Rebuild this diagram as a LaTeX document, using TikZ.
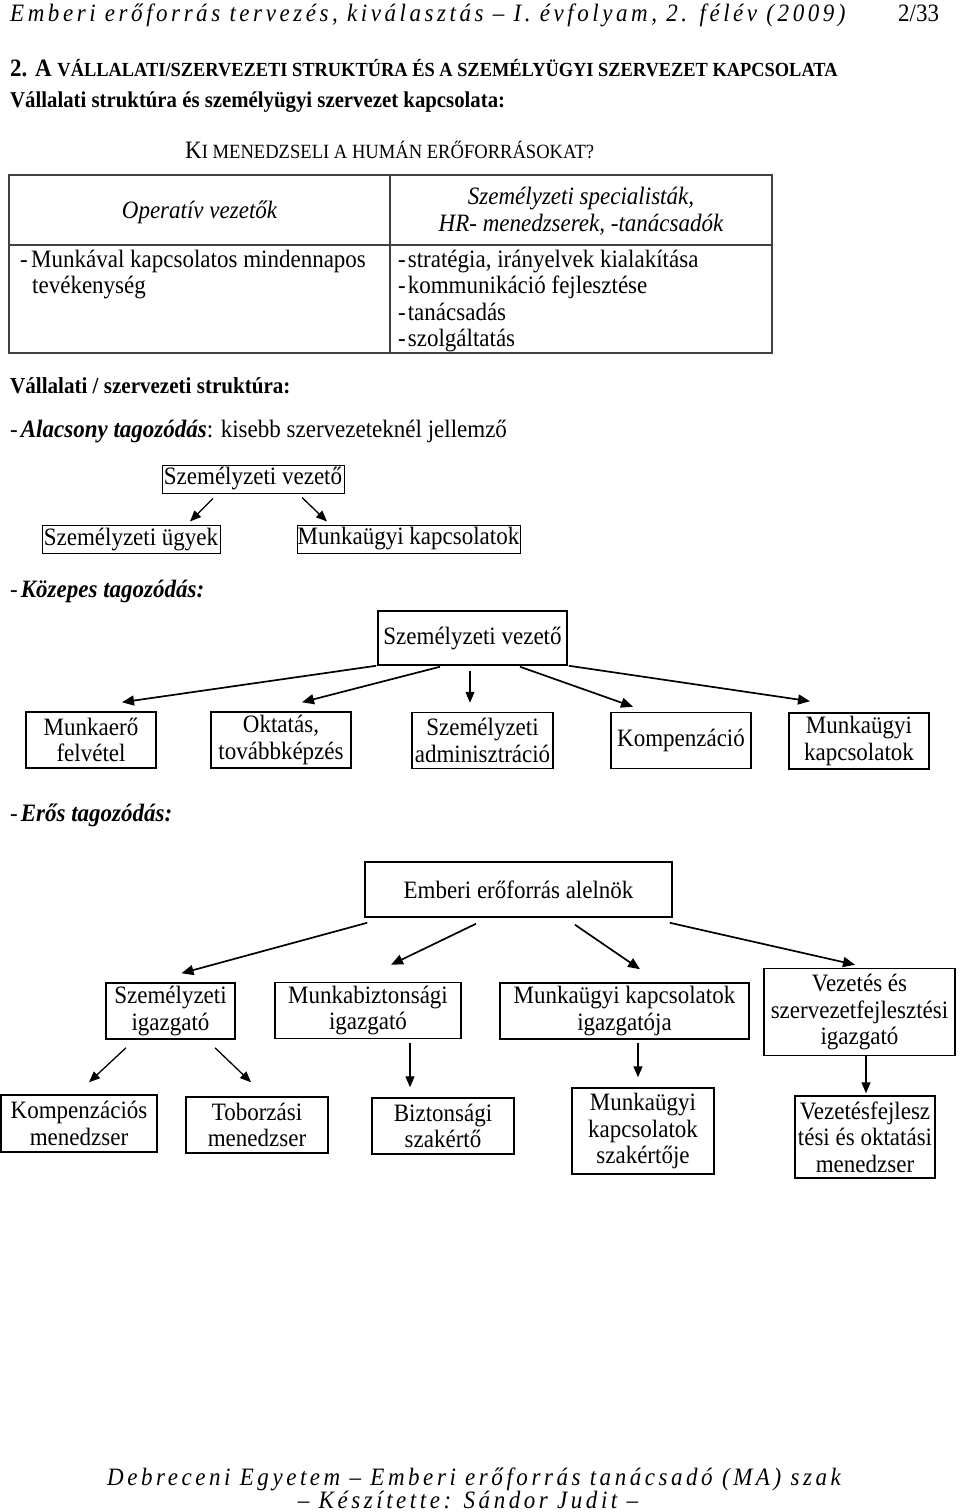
\documentclass[tikz,border=0pt]{standalone}
\usepackage{fontspec}
\setmainfont{Liberation Serif}[FakeStretch=0.92]
\newfontfamily\spacedfont{Liberation Serif}[FakeStretch=0.92,LetterSpace=14.2]
\usetikzlibrary{arrows.meta}
\newcommand\smc[1]{{\fontsize{20}{20}\selectfont #1}}
\begin{document}
\begin{tikzpicture}[x=1pt,y=-1pt,
  txt/.style={inner sep=0pt, anchor=base west, font=\fontsize{25}{26.5}\selectfont},
  ctxt/.style={inner sep=0pt, anchor=base, font=\fontsize{25}{26.5}\selectfont},
  hdrfont/.style={font=\spacedfont\itshape\fontsize{25}{26}\selectfont},
  boldhd/.style={font=\bfseries\fontsize{22.6}{24}\selectfont},
  box/.style={draw, line width=1.5pt, align=center, inner sep=0pt, font=\fontsize{25}{26.5}\selectfont},
  sbox/.style={draw, line width=1pt, inner sep=0pt, font=\fontsize{25}{26.5}\selectfont},
  sz/.style 2 args={minimum width=#1pt, minimum height=#2pt},
  arr/.style={line width=1.7pt, -{Triangle[length=12pt,width=10pt]}},
  tarr/.style={line width=1.3pt, -{Triangle[length=11pt,width=9pt]}},
  tbl/.style={draw=black!75, line width=1.4pt}
]
\fill[white] (0,0) rectangle (960,1512);
\useasboundingbox (0,0) rectangle (960,1512);

% header
\node[txt, hdrfont] (hdr) at (10,22) {Emberi erőforrás tervezés, kiválasztás – I. évfolyam, 2. félév (2009)};
\node[txt] (pg) at (898,22) {2/33};

% titles
\node[txt, font=\bfseries\fontsize{25}{26}\selectfont] (title) at (10,77) {2. A \smc{VÁLLALATI/SZERVEZETI STRUKTÚRA ÉS A SZEMÉLYÜGYI SZERVEZET KAPCSOLATA}};
\node[txt, boldhd] (sub) at (10,107) {Vállalati struktúra és személyügyi szervezet kapcsolata:};
\node[txt] (q) at (185,158) {K{\fontsize{20.2}{20.2}\selectfont I MENEDZSELI A HUMÁN ERŐFORRÁSOKAT?}};

% table
\draw[tbl] (9,175) rectangle (772,353);
\draw[tbl] (390,175) -- (390,353);
\draw[tbl] (9,245) -- (772,245);
\node[ctxt, font=\itshape\fontsize{25}{26.5}\selectfont] (opv) at (199.5,218) {Operatív vezetők};
\node[ctxt, font=\itshape\fontsize{25}{26.5}\selectfont] (szs1) at (581,204) {Személyzeti specialisták,};
\node[ctxt, font=\itshape\fontsize{25}{26.5}\selectfont] (szs2) at (581,231) {HR- menedzserek, -tanácsadók};
\node[txt] (l1d) at (20,267) {-};
\node[txt] (l1a) at (31,267) {Munkával kapcsolatos mindennapos};
\node[txt] (l1b) at (32,293.5) {tevékenység};
\node[txt] (r1) at (398,267) {-\hspace{2pt}stratégia, irányelvek kialakítása};
\node[txt] (r2) at (398,293.5) {-\hspace{2pt}kommunikáció fejlesztése};
\node[txt] (r3) at (398,320) {-\hspace{2pt}tanácsadás};
\node[txt] (r4) at (398,346.5) {-\hspace{2pt}szolgáltatás};

% structure headings
\node[txt, font=\bfseries\fontsize{22.9}{24}\selectfont] (vsz) at (10,393) {Vállalati / szervezeti struktúra:};
\node[txt] (alac) at (10,437) {-\hspace{3pt}\textbf{\textit{Alacsony tagozódás}}: kisebb szervezeteknél jellemző};
\node[txt] (koz) at (10,597) {-\hspace{3pt}\textbf{\textit{Közepes tagozódás:}}};
\node[txt] (eros) at (10,821) {-\hspace{3pt}\textbf{\textit{Erős tagozódás:}}};

% small tree
\node[sbox, sz={182}{28}] (sv1) at (253,479) {Személyzeti vezető};
\node[sbox, sz={178}{28}] (su) at (131,539) {Személyzeti ügyek};
\node[sbox, sz={223}{28}] (mk1) at (408.5,539) {Munkaügyi kapcsolatok};
\draw[tarr] ([shift={(-40,5)}]sv1.south) -- ([shift={(59,-3)}]su.north);
\draw[tarr] ([shift={(49,4)}]sv1.south) -- ([shift={(-81.5,-3)}]mk1.north);

% medium tree
\node[box, sz={189}{54}] (sv2) at (472.5,638) {Személyzeti vezető};
\node[box, sz={130}{56}] (b1) at (91,740) {Munkaerő\\felvétel};
\node[box, sz={140}{56}] (b2) at (281,740) {Oktatás,\\továbbképzés};
\node[box, sz={141}{56}] (b3) at (482.5,740.5) {Személyzeti\\adminisztráció};
\node[box, sz={140}{56}] (b4) at (681,740.5) {Kompenzáció};
\node[box, sz={140}{56}] (b5) at (859,741) {Munkaügyi\\kapcsolatok};
\draw[arr] ([shift={(-1,0)}]sv2.south west) -- ([shift={(31,-9)}]b1.north);
\draw[arr] ([shift={(-32.5,1)}]sv2.south) -- ([shift={(21,-9)}]b2.north);
\draw[tarr] ([shift={(-2.5,5)}]sv2.south) -- ([shift={(-12.5,-9)}]b3.north);
\draw[arr] ([shift={(47.5,1)}]sv2.south) -- ([shift={(-48,-5)}]b4.north);
\draw[arr] ([shift={(1,0)}]sv2.south east) -- ([shift={(-49,-11)}]b5.north);

% strong tree
\node[box, sz={307}{55}] (ea) at (518.5,889.5) {Emberi erőforrás alelnök};
\node[box, sz={129}{56}] (g1) at (170.5,1011) {Személyzeti\\igazgató};
\node[box, sz={186}{56}] (g2) at (368,1010.5) {Munkabiztonsági\\igazgató};
\node[box, sz={249}{56}] (g3) at (624.5,1011) {Munkaügyi kapcsolatok\\igazgatója};
\node[box, sz={191}{87}] (g4) at (859.5,1012) {Vezetés és\\szervezetfejlesztési\\igazgató};
\draw[arr] ([shift={(3,5)}]ea.south west) -- ([shift={(11,-9)}]g1.north);
\draw[arr] ([shift={(-42.5,6)}]ea.south) -- ([shift={(23,-17)}]g2.north);
\draw[arr] ([shift={(56.5,7)}]ea.south) -- ([shift={(15.5,-13)}]g3.north);
\draw[arr] ([shift={(-3,5)}]ea.south east) -- ([shift={(-4.5,-3)}]g4.north);

\node[box, sz={156}{57}] (m1) at (79,1123.5) {Kompenzációs\\menedzser};
\node[box, sz={142}{56}] (m2) at (257,1125) {Toborzási\\menedzser};
\node[box, sz={142}{56}] (m3) at (443,1126) {Biztonsági\\szakértő};
\node[box, sz={142}{86}] (m4) at (643,1131) {Munkaügyi\\kapcsolatok\\szakértője};
\node[box, sz={140}{82}] (m5) at (865,1137) {Vezetésfejlesz\\tési és oktatási\\menedzser};
\draw[tarr] ([shift={(-44.5,8)}]g1.south) -- ([shift={(10,-12)}]m1.north);
\draw[tarr] ([shift={(44.5,8)}]g1.south) -- ([shift={(-6,-14)}]m2.north);
\draw[tarr] ([shift={(42,3.5)}]g2.south) -- ([shift={(-33,-10)}]m3.north);
\draw[tarr] ([shift={(13.5,3)}]g3.south) -- ([shift={(-5,-10)}]m4.north);
\draw[tarr] ([shift={(6.5,0)}]g4.south) -- ([shift={(1,-2)}]m5.north);

% footer
\node[ctxt, hdrfont] (f1) at (474,1485) {Debreceni Egyetem – Emberi erőforrás tanácsadó (MA) szak};
\node[ctxt, hdrfont] (f2) at (468,1508) {– Készítette: Sándor Judit –};
\end{tikzpicture}
\end{document}
